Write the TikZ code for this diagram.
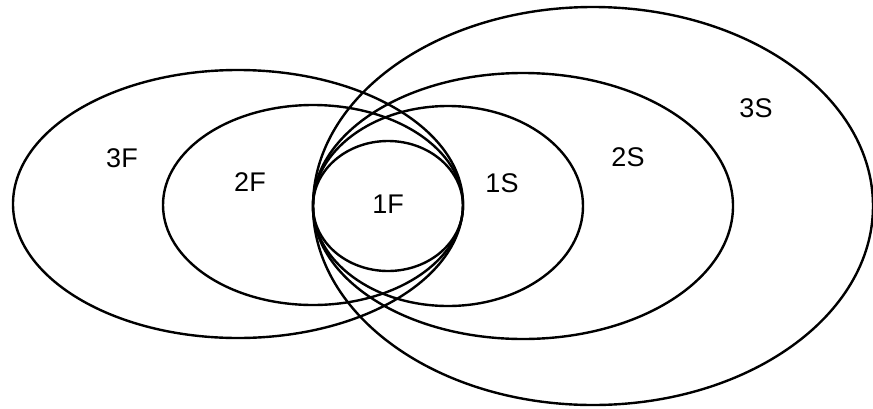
\documentclass[tikz,border=0pt]{standalone}
\usepackage{fontspec}
\setmainfont{Liberation Sans}
\begin{document}
\begin{tikzpicture}[x=1pt,y=-1pt,
  ring/.style={draw=black,line width=2.4pt},
  lbl/.style={font=\fontsize{27}{31}\selectfont,inner sep=0pt}]
\useasboundingbox (0,0) rectangle (873,408);
\draw[ring] (238,204) ellipse [x radius=225, y radius=134];
\draw[ring] (313,205) ellipse [x radius=150, y radius=100];
\draw[ring] (388,206) ellipse [x radius=75, y radius=65];
\draw[ring] (448,206) ellipse [x radius=135, y radius=100];
\draw[ring] (523,206) ellipse [x radius=210, y radius=133];
\draw[ring] (593,206) ellipse [x radius=280, y radius=199];
\node[lbl] (t3F) at (122,158) {3F};
\node[lbl] (t2F) at (250,182) {2F};
\node[lbl] (t1F) at (388,204) {1F};
\node[lbl] (t1S) at (502,183) {1S};
\node[lbl] (t2S) at (628,157) {2S};
\node[lbl] (t3S) at (756,108) {3S};
\end{tikzpicture}
\end{document}
